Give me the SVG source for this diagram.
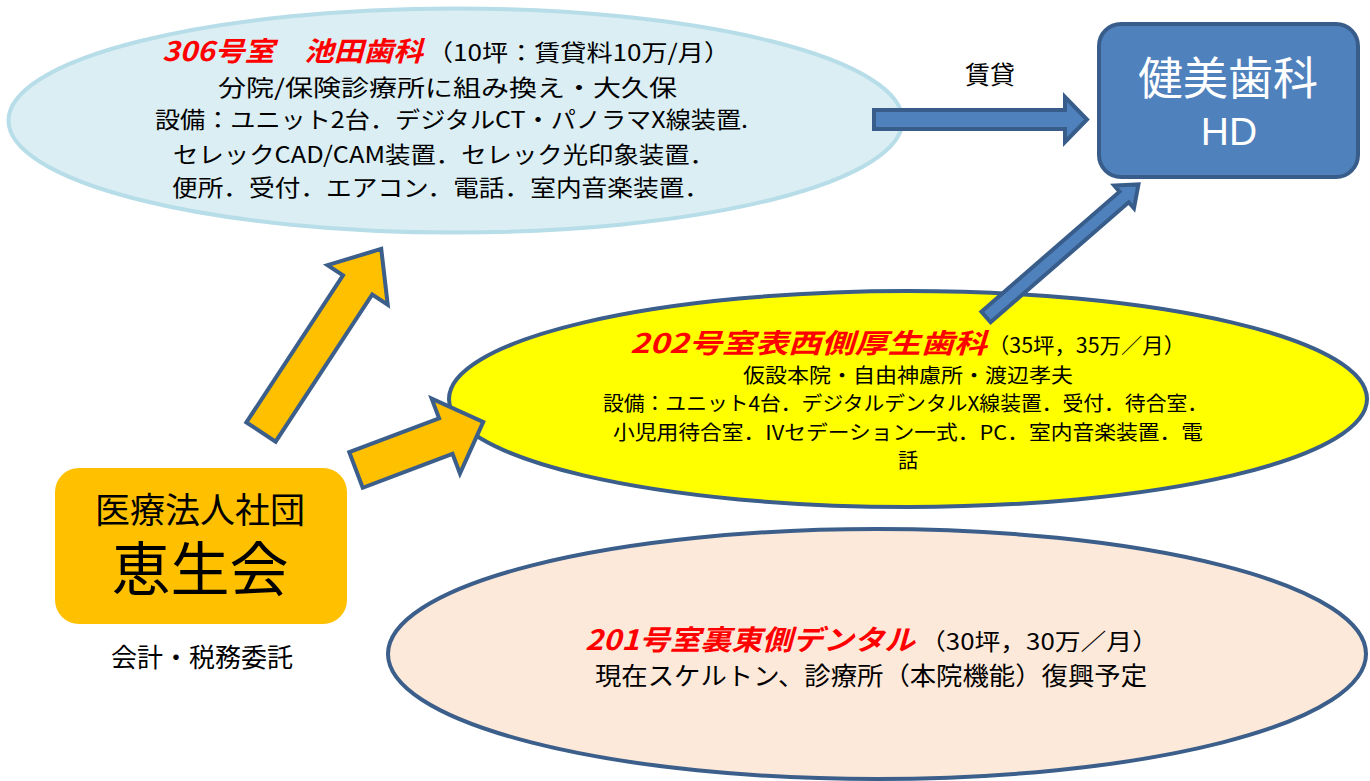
<svg xmlns="http://www.w3.org/2000/svg" width="1370" height="781" viewBox="0 0 1370 781">
<style>
  .t { font-family: "Noto Sans CJK JP", "Noto Sans", sans-serif; fill: #000; }
  .tl { font-family: "Liberation Sans", "Noto Sans CJK JP", sans-serif; fill: #000; }
  .red { font-family: "Noto Sans CJK JP", "Noto Sans", sans-serif; fill: #FF0000; font-weight: bold; font-style: italic; }
  .w { font-family: "Liberation Sans", "Noto Sans CJK JP", sans-serif; fill: #FFFFFF; }
  .oarrow { fill: #FFC000; stroke: #3B5E8A; stroke-width: 4; stroke-linejoin: miter; }
  .barrow { fill: #4F81BD; stroke: #385D8A; stroke-width: 4; stroke-linejoin: miter; }
  .ell { stroke: #3B5E8A; stroke-width: 4; }
</style>
<rect width="1370" height="781" fill="#FFFFFF"/>

<g id="node-306">
  <ellipse cx="455.5" cy="120.5" rx="447" ry="112" fill="#DAEEF3" stroke="#B7DDE8" stroke-width="4"/>
  <text class="red" x="162" y="61" font-size="27" textLength="261" lengthAdjust="spacingAndGlyphs">306号室　池田歯科</text>
  <text class="t" x="427" y="61" font-size="23" textLength="303" lengthAdjust="spacingAndGlyphs">（10坪：賃貸料10万/月）</text>
  <text class="t" x="218" y="96" font-size="23" textLength="459" lengthAdjust="spacingAndGlyphs">分院/保険診療所に組み換え・大久保</text>
  <text class="t" x="155" y="128" font-size="23" textLength="593" lengthAdjust="spacingAndGlyphs">設備：ユニット2台．デジタルCT・パノラマX線装置.</text>
  <text class="t" x="173" y="163" font-size="23" textLength="542" lengthAdjust="spacingAndGlyphs">セレックCAD/CAM装置．セレック光印象装置．</text>
  <text class="t" x="172" y="196" font-size="23" textLength="538" lengthAdjust="spacingAndGlyphs">便所．受付．エアコン．電話．室内音楽装置．</text>
</g>

<g id="node-202">
  <ellipse class="ell" cx="908" cy="399" rx="459" ry="108" fill="#FFFF00"/>
</g>

<g id="node-201">
  <ellipse class="ell" cx="877" cy="654" rx="489" ry="125" fill="#FDE9D9"/>
  <text class="red" x="585" y="650" font-size="28" textLength="330" lengthAdjust="spacingAndGlyphs">201号室裏東側デンタル</text>
  <text class="t" x="920" y="650" font-size="23" textLength="238" lengthAdjust="spacingAndGlyphs">（30坪，30万／月）</text>
  <text class="t" x="595" y="685" font-size="25" textLength="552" lengthAdjust="spacingAndGlyphs">現在スケルトン、診療所（本院機能）復興予定</text>
</g>

<g id="node-hd">
  <rect x="1099" y="24" width="259" height="153" rx="22" ry="22" fill="#4F81BD" stroke="#385D8A" stroke-width="4"/>
  <text class="w" x="1228" y="95" font-size="45" text-anchor="middle">健美歯科</text>
  <text class="w" x="1229" y="145" font-size="39" text-anchor="middle">HD</text>
</g>

<g id="node-keiseikai">
  <rect x="55" y="468" width="292" height="156" rx="24" ry="24" fill="#FFC000"/>
  <text class="tl" x="200" y="523" font-size="35" text-anchor="middle">医療法人社団</text>
  <text class="tl" x="200" y="591" font-size="59" text-anchor="middle">恵生会</text>
  <text class="tl" x="202" y="667" font-size="26" text-anchor="middle">会計・税務委託</text>
</g>

<g id="connectors">
  <!-- 306 -> HD horizontal arrow -->
  <polygon class="barrow" points="874,110 1065,110 1065,97 1087,119.5 1065,142 1065,129 874,129"/>
  <text class="t" x="990" y="84" font-size="25" text-anchor="middle">賃貸</text>
  <!-- 202 -> HD diagonal arrow -->
  <polygon class="barrow" transform="translate(986,317) rotate(-41)" points="0,-7 183,-7 183,-15 202,0 183,15 183,7 0,7"/>
  <!-- Keiseikai -> 306 -->
  <polygon class="oarrow" transform="translate(261,432) rotate(-56.7)" points="0,-17.5 176,-17.5 176,-36 219,0 176,36 176,17.5 0,17.5"/>
  <!-- Keiseikai -> 202 -->
  <polygon class="oarrow" transform="translate(356,470) rotate(-20.7)" points="0,-19 96,-19 96,-40 136,0 96,40 96,19 0,19"/>
</g>

<g id="node-202-text">
  <text class="red" x="630" y="353" font-size="27" textLength="357" lengthAdjust="spacingAndGlyphs">202号室表西側厚生歯科</text>
  <text class="t" x="988" y="353" font-size="21" textLength="197" lengthAdjust="spacingAndGlyphs">（35坪，35万／月）</text>
  <text class="t" x="743" y="383" font-size="20" textLength="330" lengthAdjust="spacingAndGlyphs">仮設本院・自由神慮所・渡辺孝夫</text>
  <text class="t" x="603" y="411" font-size="20" textLength="605" lengthAdjust="spacingAndGlyphs">設備：ユニット4台．デジタルデンタルX線装置．受付．待合室．</text>
  <text class="t" x="613" y="440" font-size="20" textLength="590" lengthAdjust="spacingAndGlyphs">小児用待合室．IVセデーション一式．PC．室内音楽装置．電</text>
  <text class="t" x="908" y="468" font-size="20" text-anchor="middle">話</text>
</g>
</svg>
